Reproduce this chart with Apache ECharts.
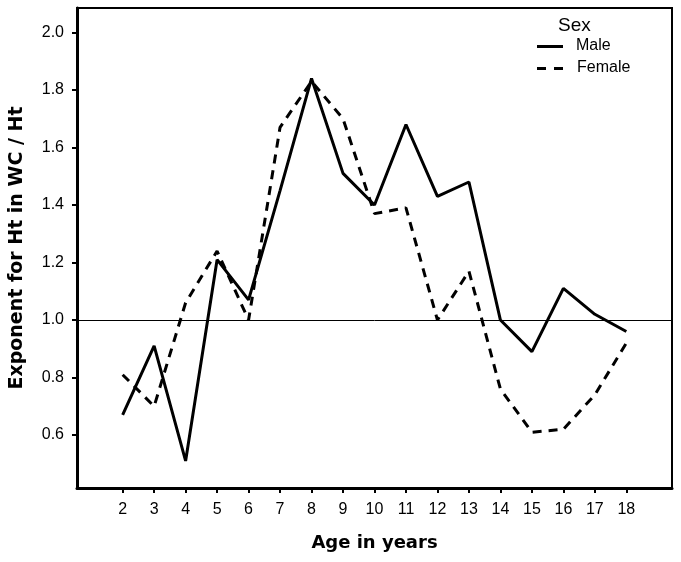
<!DOCTYPE html>
<html>
<head>
<meta charset="utf-8">
<script src="https://cdn.jsdelivr.net/npm/echarts@6/dist/echarts.min.js"></script>
<style>html,body{margin:0;padding:0;background:#fff}#c{width:681px;height:562px}</style>
</head>
<body>
<div id="c"></div>
<script>
const ages = [2,3,4,5,6,7,8,9,10,11,12,13,14,15,16,17,18];
const male = [0.67,0.91,0.51,1.21,1.07,1.45,1.84,1.51,1.40,1.68,1.43,1.48,1.00,0.89,1.11,1.02,0.96];
const female = [0.81,0.70,1.06,1.24,1.00,1.67,1.83,1.70,1.37,1.39,1.00,1.17,0.76,0.61,0.62,0.74,0.92];
const yTicks = [0.6,0.8,1.0,1.2,1.4,1.6,1.8,2.0];
const refValue = 1.0;
const legendTitle = 'Sex';
const seriesNames = ['Male', 'Female'];

const chart = echarts.init(document.getElementById('c'));
const pair = (v) => ages.map((a,i)=>[a, v[i]]);
const txt = {fontFamily: 'Liberation Sans', fill: '#000'};
chart.setOption({
  animation: false,
  backgroundColor: '#fff',
  graphic: [
    {type: 'text', left: 558, top: 16, style: Object.assign({text: legendTitle, fontSize: 19}, txt)},
    {type: 'line', shape: {x1: 537, y1: 46.5, x2: 563, y2: 46.5}, style: {stroke: '#000', lineWidth: 3}},
    {type: 'text', left: 576, top: 38, style: Object.assign({text: seriesNames[0], fontSize: 16}, txt)},
    {type: 'line', shape: {x1: 537, y1: 68.5, x2: 563, y2: 68.5}, style: {stroke: '#000', lineWidth: 3, lineDash: [9, 8]}},
    {type: 'text', left: 577, top: 60, style: Object.assign({text: seriesNames[1], fontSize: 16}, txt)}
  ],
  grid: {left: 77, right: 9, top: 8, bottom: 74, show: true, borderColor: '#000', borderWidth: 2, backgroundColor: 'transparent'},
  xAxis: {
    type: 'value', min: 0.55, max: 19.45,
    name: 'Age in years', nameLocation: 'middle', nameGap: 46,
    nameTextStyle: {fontFamily: 'DejaVu Sans', fontWeight: 'bold', fontSize: 18, color: '#000'},
    axisLine: {show: true, lineStyle: {color: '#000', width: 3}},
    axisTick: {show: true, length: 5, lineStyle: {color: '#000', width: 2}, customValues: ages},
    axisLabel: {customValues: ages, margin: 14, fontFamily: 'Liberation Sans', fontSize: 16, color: '#000'},
    splitLine: {show: false}
  },
  yAxis: {
    type: 'value', min: 0.416, max: 2.085,
    name: 'Exponent for Ht in WC / Ht', nameLocation: 'middle', nameGap: 50,
    nameTextStyle: {fontFamily: 'DejaVu Sans', fontWeight: 'bold', fontSize: 19, color: '#000'},
    axisLine: {show: true, lineStyle: {color: '#000', width: 3}},
    axisTick: {show: true, length: 5, lineStyle: {color: '#000', width: 2}, customValues: yTicks},
    axisLabel: {customValues: yTicks, margin: 13, fontFamily: 'Liberation Sans', fontSize: 16, color: '#000',
      formatter: (v)=>v.toFixed(1)},
    splitLine: {show: false}
  },
  series: [
    {
      name: seriesNames[0], type: 'line', data: pair(male), symbol: 'none', showSymbol: false,
      lineStyle: {color: '#000', width: 3, type: 'solid'}, itemStyle: {color: '#000'},
      markLine: {silent: true, symbol: 'none', label: {show: false},
        lineStyle: {color: '#000', width: 1, type: 'solid'}, data: [{yAxis: refValue}]}
    },
    {
      name: seriesNames[1], type: 'line', data: pair(female), symbol: 'none', showSymbol: false,
      lineStyle: {color: '#000', width: 3, type: [9, 7]}, itemStyle: {color: '#000'}
    }
  ]
});
</script>
</body>
</html>
